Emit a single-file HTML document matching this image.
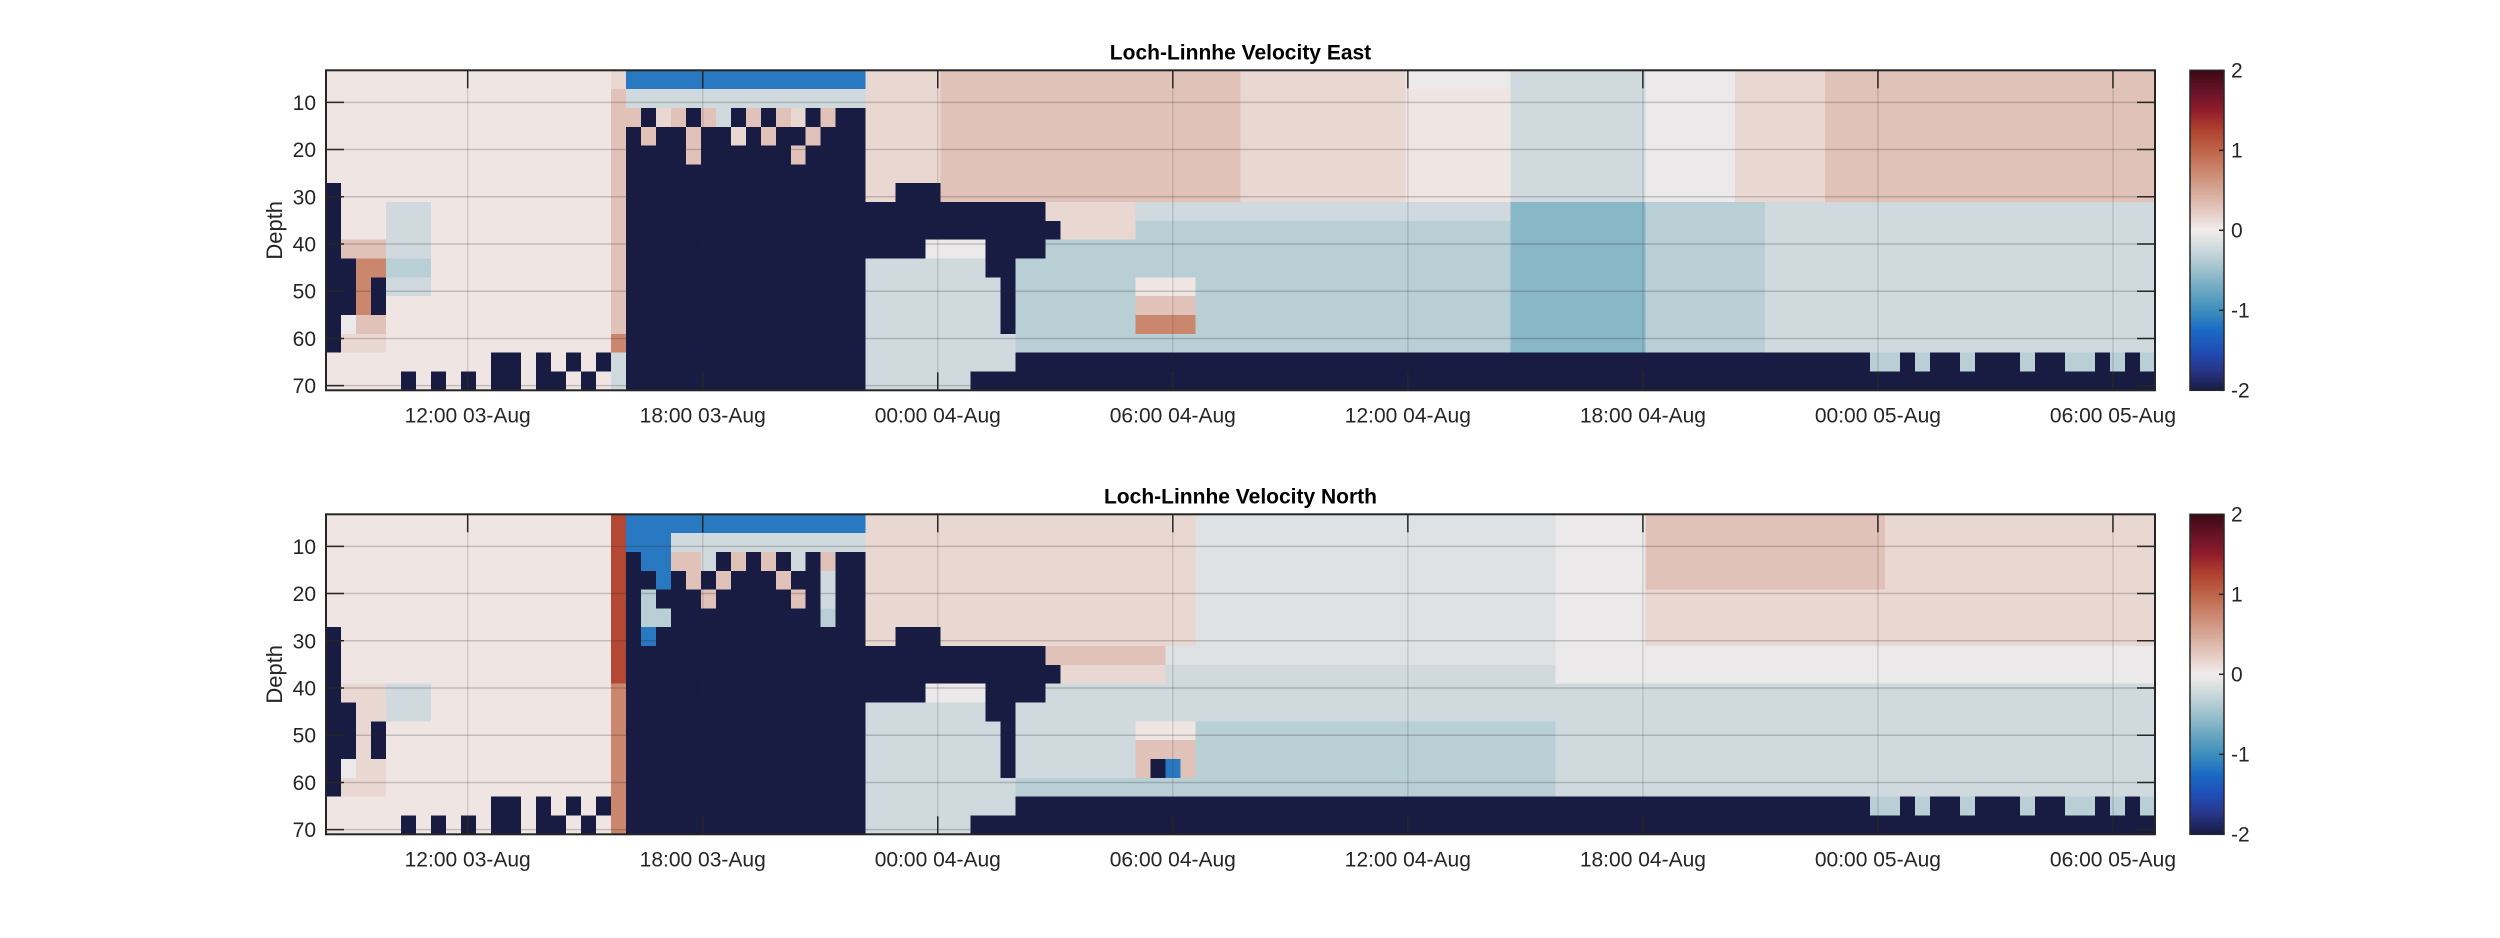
<!DOCTYPE html>
<html><head><meta charset="utf-8"><style>
html,body{margin:0;padding:0;background:#fff;}
svg{display:block;font-family:"Liberation Sans",Arial,sans-serif;}
</style></head><body>
<svg id="fig" xmlns="http://www.w3.org/2000/svg" width="2500" height="938" viewBox="0 0 2500 938"></svg>
<script>
// ---- data ----
const depthTicks = [10,20,30,40,50,60,70];
const timeTickHours = [3.617,9.617,15.617,21.617,27.617,33.617,39.617,45.617];
const timeTickLabels = ["12:00 03-Aug","18:00 03-Aug","00:00 04-Aug","06:00 04-Aug","12:00 04-Aug","18:00 04-Aug","00:00 05-Aug","06:00 05-Aug"];
const cbarTicks = [2,1,0,-1,-2];
const codeChars = ["X","b","B","M","m","g","-","w","0","+","p","P","R"];
const codeValues = [-2.2,-1.5,-1.15,-0.6,-0.35,-0.12,-0.22,-0.04,0.04,0.15,0.3,0.75,1.2];
const TAIL1 = "+:5,p:20,+:11,0:7,-:9,w:6,+:6,p:22";
const eastRows = [
"0:19,+:1,B:16,+:5,p:20,+:11,w:7,-:9,w:6,+:6,p:22",
"0:19,p:1,-:16,"+TAIL1,
"0:19,p:1,p:1,X:1,+:1,p:1,X:1,p:1,-:1,X:1,p:1,X:1,p:1,+:1,X:1,p:1,X:2,"+TAIL1,
"0:19,p:1,X:1,p:1,X:2,p:1,X:2,+:1,X:1,p:1,X:2,p:1,X:3,"+TAIL1,
"0:19,p:1,X:4,p:1,X:6,p:1,X:4,"+TAIL1,
"0:19,p:1,X:16,"+TAIL1,
"X:1,0:18,p:1,X:16,+:2,X:3,p:20,+:11,0:7,-:9,w:6,+:6,p:22",
"X:1,0:3,-:3,0:12,p:1,X:28,+:6,-:25,M:9,m:8,-:26",
"X:1,0:3,-:3,0:12,p:1,X:29,+:5,m:25,M:9,m:8,-:26",
"X:1,p:3,-:3,0:12,p:1,X:20,w:4,X:4,m:31,M:9,m:8,-:26",
"X:2,P:2,m:3,0:12,p:1,X:16,-:8,X:2,m:33,M:9,m:8,-:26",
"X:2,P:1,X:1,-:3,0:12,p:1,X:16,-:9,X:1,m:8,0:4,m:21,M:9,m:8,-:26",
"X:2,P:1,X:1,0:15,p:1,X:16,-:9,X:1,m:8,p:4,m:21,M:9,m:8,-:26",
"X:1,w:1,p:2,0:15,p:1,X:16,-:9,X:1,m:8,P:4,m:21,M:9,m:8,-:26",
"X:1,+:3,0:15,P:1,X:16,-:10,m:33,M:9,m:8,-:26",
"0:11,X:2,0:1,X:1,0:1,X:1,0:1,X:1,-:1,X:16,-:10,X:57,m:2,X:1,m:1,X:2,m:1,X:3,m:1,X:2,m:2,X:1,m:1,X:1,m:1",
"0:5,X:1,0:1,X:1,0:1,X:1,0:1,X:2,0:1,X:2,0:1,X:1,0:1,-:1,X:16,-:7,X:79"
];
const TAIL2 = "+:22,g:24,w:6,p:16,+:18";
const TAIL3 = "+:22,g:24,w:6,+:16,+:18";
const northRows = [
"0:19,R:1,B:16,+:5,+:17,g:24,w:6,p:16,+:18",
"0:19,R:1,B:3,-:13,"+TAIL2,
"0:19,R:1,X:1,B:2,p:2,-:1,X:1,p:1,X:1,p:1,X:1,-:1,X:1,p:1,X:2,"+TAIL2,
"0:19,R:1,X:2,B:1,X:1,p:1,X:1,p:1,X:3,p:1,X:2,-:1,X:2,"+TAIL2,
"0:19,R:1,X:1,m:1,X:3,p:1,X:5,p:1,X:1,-:1,X:2,"+TAIL3,
"0:19,R:1,X:1,m:2,X:10,m:1,X:2,"+TAIL3,
"X:1,0:18,R:1,X:1,B:1,X:14,+:2,X:3,+:17,g:24,w:6,+:34",
"X:1,0:18,R:1,X:28,p:8,g:26,w:40",
"X:1,0:18,R:1,X:29,+:7,-:26,w:40",
"X:1,+:3,-:3,0:12,P:1,X:20,w:4,X:4,-:74",
"X:2,+:2,-:3,0:12,P:1,X:16,-:8,X:2,-:76",
"X:2,+:1,X:1,0:15,P:1,X:16,-:9,X:1,-:8,0:4,m:24,-:40",
"X:2,+:1,X:1,0:15,P:1,X:16,-:9,X:1,-:8,p:4,m:24,-:40",
"X:1,w:1,+:2,0:15,P:1,X:16,-:9,X:1,-:8,p:1,X:1,B:1,p:1,m:24,-:40",
"X:1,+:3,0:15,P:1,X:16,-:10,m:36,-:40",
"0:11,X:2,0:1,X:1,0:1,X:1,0:1,X:1,P:1,X:16,-:10,X:57,m:2,X:1,m:1,X:2,m:1,X:3,m:1,X:2,m:2,X:1,m:1,X:1,m:1",
"0:5,X:1,0:1,X:1,0:1,X:1,0:1,X:2,0:1,X:2,0:1,X:1,0:1,P:1,X:16,-:7,X:79"
];
// ---- layout ----
const NCOL = 122, NROW = 17;
const PX0 = 326, PX1 = 2155, SPAN_H = 46.69;
const DEPTH_TOP = 3.22, DEPTH_BOT = 70.98;
const panels = [
  {title:"Loch-Linnhe Velocity East", rows:eastRows, top:70.3, name:"east"},
  {title:"Loch-Linnhe Velocity North", rows:northRows, top:514.3, name:"north"}
];
const PH = 320;
const stops = [[-2,"#181c43"],[-1.75,"#283588"],[-1.5,"#1f4fb8"],[-1.25,"#1a6bc4"],[-1,"#3d8fbd"],[-0.75,"#6aa7c1"],[-0.5,"#9cc1cd"],[-0.25,"#cbd8dc"],[0,"#f1eceb"],[0.25,"#e4c9c0"],[0.5,"#d6a796"],[0.75,"#cb866e"],[1,"#bd6448"],[1.25,"#b0422f"],[1.5,"#901c2b"],[1.75,"#661227"],[2,"#3c0912"]];
function hex2(h){return [1,3,5].map(i=>parseInt(h.substr(i,2),16));}
function cmap(v){
  v=Math.max(-2,Math.min(2,v));
  for(let i=0;i<stops.length-1;i++){
    const a=stops[i],b=stops[i+1];
    if(v<=b[0]){const t=(v-a[0])/(b[0]-a[0]);const ca=hex2(a[1]),cb=hex2(b[1]);
      return "rgb("+ca.map((c,k)=>Math.round(c+(cb[k]-c)*t)).join(",")+")";}
  }
  return stops[stops.length-1][1];
}
function decode(s){
  let out=[];
  s.split(",").forEach(tok=>{const p=tok.lastIndexOf(":");const c=tok.slice(0,p),n=+tok.slice(p+1);for(let i=0;i<n;i++)out.push(c);});
  while(out.length<NCOL)out.push(out[out.length-1]);
  return out.slice(0,NCOL);
}
const NS="http://www.w3.org/2000/svg";
const svg=document.getElementById("fig");
function el(tag,attrs,parent){const e=document.createElementNS(NS,tag);for(const k in attrs)e.setAttribute(k,attrs[k]);(parent||svg).appendChild(e);return e;}
function xOfHour(h){return PX0+(PX1-PX0)*h/SPAN_H;}
function xOfCol(i){return PX0+(PX1-PX0)*i/NCOL;}
const TXT="#262626";
panels.forEach(P=>{
  const top=P.top, bot=top+PH;
  function yOfDepth(d){return top+PH*(d-DEPTH_TOP)/(DEPTH_BOT-DEPTH_TOP);}
  function yOfRow(r){return top+PH*r/NROW;}
  const g=el("g",{});
  
  
  const hm=el("g",{"shape-rendering":"crispEdges"},g);
  
  
  P.rows.forEach((rs,r)=>{
    const codes=decode(rs);
    codes.forEach((c,i)=>{
      const v=codeValues[codeChars.indexOf(c)];
      const rect=el("rect",{x:xOfCol(i).toFixed(2),y:yOfRow(r).toFixed(2),width:(xOfCol(i+1)-xOfCol(i)+0.4).toFixed(2),height:(yOfRow(r+1)-yOfRow(r)+0.4).toFixed(2),fill:cmap(v)},hm);
      
      
    });
  });
  depthTicks.forEach(d=>{const y=yOfDepth(d);
    const l=el("line",{x1:PX0,x2:PX1,y1:y,y2:y,stroke:"rgba(38,38,38,0.22)","stroke-width":1.5},g);
     
    el("line",{x1:PX0,x2:PX0+18,y1:y,y2:y,stroke:TXT,"stroke-width":1.5},g);
    el("line",{x1:PX1-18,x2:PX1,y1:y,y2:y,stroke:TXT,"stroke-width":1.5},g);
    const t=el("text",{x:316,y:y+7.5,"text-anchor":"end","font-size":21,fill:TXT},g);t.textContent=d;
     
  });
  timeTickHours.forEach((h,i)=>{const x=xOfHour(h);
    const l=el("line",{x1:x,x2:x,y1:top,y2:bot,stroke:"rgba(38,38,38,0.15)","stroke-width":1.5},g);
     
    el("line",{x1:x,x2:x,y1:top,y2:top+18,stroke:TXT,"stroke-width":1.5},g);
    el("line",{x1:x,x2:x,y1:bot-18,y2:bot,stroke:TXT,"stroke-width":1.5},g);
    const t=el("text",{x:x,y:bot+32,"text-anchor":"middle","font-size":21,fill:TXT},g);t.textContent=timeTickLabels[i];
     
  });
  const fr=el("rect",{x:PX0,y:top,width:PX1-PX0,height:PH,fill:"none",stroke:TXT,"stroke-width":2},g);
   
  const tt=el("text",{x:(PX0+PX1)/2,y:top-11,"text-anchor":"middle","font-size":21,"font-weight":"bold",fill:"#000"},g);
  tt.textContent=P.title;  
  const yl=el("text",{x:0,y:0,"text-anchor":"middle","font-size":22,fill:TXT,transform:"translate(282,"+(top+PH/2)+") rotate(-90)"},g);
  yl.textContent="Depth";  
  const cb=el("g",{},g);
   
  const gid="grad-"+P.name;
  const lg=el("linearGradient",{id:gid,x1:0,y1:1,x2:0,y2:0},cb);
  stops.forEach(s=>el("stop",{offset:((s[0]+2)/4),"stop-color":s[1]},lg));
  el("rect",{x:2190,y:top,width:34,height:PH,fill:"url(#"+gid+")",stroke:TXT,"stroke-width":1.5},cb);
  cbarTicks.forEach(v=>{const y=top+PH*(2-v)/4;
    el("line",{x1:2219,x2:2224,y1:y,y2:y,stroke:TXT,"stroke-width":1.5},cb);
    const t=el("text",{x:2231,y:y+7,"font-size":21,fill:TXT},cb);t.textContent=v;
     
  });
});
</script>
</body></html>
